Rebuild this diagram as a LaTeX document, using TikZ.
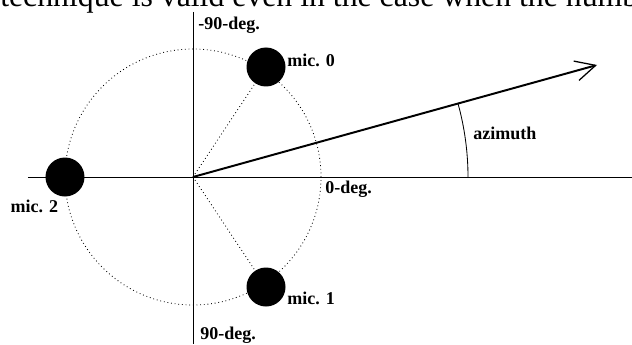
\documentclass[tikz,border=0pt]{standalone}
\usepackage{fontspec}
\setmainfont{Liberation Serif}
\usetikzlibrary{positioning,arrows.meta}
\begin{document}
\begin{tikzpicture}[
        mic/.style={circle,fill=black,minimum size=0.975cm,inner sep=0pt},
        lbl/.style={font=\fontsize{12.8}{15}\selectfont\bfseries,inner sep=1pt}]
        \useasboundingbox (-4.825,-4.175) rectangle (10.975,4.425);
        \begin{scope}
            \clip (-4.825,-4.175) rectangle (10.975,4.425);
            \path (-4.825,4.25) node [anchor=base west,inner sep=0pt,font=\fontsize{22.6}{27}\selectfont] (txt) {technique is valid even in the case when the number};
        \end{scope}
        \coordinate (o) at (0,0);
        \coordinate (xl) at (-4.125,0);
        \coordinate (xr) at (10.975,0);
        \coordinate (yt) at (0,4.125);
        \coordinate (yb) at (0,-4.175);
        \coordinate (tip) at (10.1,2.8);
        \draw [line width=0.7pt] (xl) -- (xr);
        \draw [line width=0.7pt] (yt) -- (yb);
        \draw [dotted,line width=0.6pt] (o) circle (3.2);
        \node [mic] (m0) at (1.825,2.75) {};
        \node [mic] (m1) at (1.825,-2.75) {};
        \node [mic] (m2) at (-3.2,0) {};
        \draw [dotted,line width=0.6pt] (o) -- (m0);
        \draw [dotted,line width=0.6pt] (o) -- (m1);
        \draw [line width=1.4pt,-{Straight Barb[length=0.5cm,width=0.5cm,line width=0.9pt]}] (o) -- (tip);
        \draw [line width=0.6pt] (6.875,0) arc (0:15.5:6.875);
        \node [lbl,right=0pt of m0,yshift=0.175cm] (m0lbl) {mic. 0};
        \node [lbl,right=0pt of m1,yshift=-0.275cm] (m1lbl) {mic. 1};
        \node [lbl,below left=0.03cm and 0.13cm of m2.south] (m2lbl) {mic. 2};
        \node [lbl,anchor=west] (up) at (0.09,3.8) {-90-deg.};
        \node [lbl,anchor=west] (down) at (0.14,-3.95) {90-deg.};
        \node [lbl,anchor=west] (zero) at (3.265,-0.3) {0-deg.};
        \node [lbl,anchor=west] (az) at (6.965,1.09) {azimuth};
\end{tikzpicture}
\end{document}
